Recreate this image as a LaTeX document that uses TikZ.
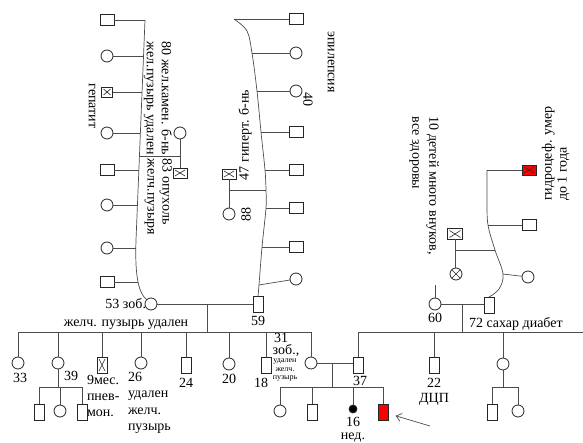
\documentclass[tikz,border=0pt]{standalone}
\usepackage{fontspec}
\setmainfont{Liberation Serif}
\usetikzlibrary{arrows.meta}
\begin{document}
\begin{tikzpicture}[x=1pt,y=-1pt,
  font=\fontsize{14}{15}\selectfont,
  sym/.style={draw=black!85, line width=0.8pt, fill=white, inner sep=0pt, outer sep=0pt},
  sqh/.style={sym, rectangle, minimum width=14pt, minimum height=11pt},
  sqv/.style={sym, rectangle, minimum width=10pt, minimum height=16pt},
  circ/.style={sym, circle, minimum size=12pt},
  crossed/.style={path picture={\draw[line width=0.6pt]
     ([shift={(2pt,-2pt)}]path picture bounding box.north west) -- ([shift={(-2pt,2pt)}]path picture bounding box.south east)
     ([shift={(-2pt,-2pt)}]path picture bounding box.north east) -- ([shift={(2pt,2pt)}]path picture bounding box.south west);}},
  xcirc/.style={path picture={\draw[line width=0.6pt]
     (path picture bounding box.north west) -- (path picture bounding box.south east)
     (path picture bounding box.north east) -- (path picture bounding box.south west);}},
  conn/.style={draw=black!70, line width=0.7pt},
  lbl/.style={inner sep=0pt, outer sep=0pt},
  small/.style={lbl, font=\fontsize{8}{8.3}\selectfont}
]
\useasboundingbox (0,0) rectangle (583,443);

% ---------- left sibship (rotated) ----------
\node[sqh] (L1) at (107,20) {};
\node[circ] (L2) at (107,56) {};
\node[sqh, crossed, minimum width=11pt, minimum height=10pt] (L3) at (107,92) {};
\node[circ] (L4) at (107,133) {};
\node[sqh] (L5) at (107,170) {};
\node[circ] (L6) at (107,205) {};
\node[circ] (L7) at (107,248) {};
\node[sqh] (L8) at (107,282) {};
\node[circ] (c53) at (151,304) {};

\coordinate (la1) at (145,20);
\coordinate (la2) at (143.5,56);
\coordinate (la3) at (142,92);
\coordinate (la4) at (140.4,133);
\coordinate (la80) at (139.4,156);
\coordinate (la5) at (138.9,170);
\coordinate (la6) at (137.4,205);
\coordinate (lb) at (136,240);
\coordinate (la7) at (135.8,248);
\coordinate (la8) at (137.6,282);

\draw[conn] (la1) -- (lb) .. controls (135,270) and (137,292) .. (c53.north west);
\foreach \i in {1,...,8} {\draw[conn] (L\i) -- (la\i);}

% couple 80 / 83
\node[circ] (c80) at (180,133) {};
\node[sqh, crossed, minimum width=14pt, minimum height=10pt] (x83) at (180,173) {};
\coordinate (m80) at (180,156);
\draw[conn] (c80) -- (x83);
\draw[conn] (m80) -- (la80);

\node[lbl, rotate=-90] (tgep) at (92,106) {гепатит};
\node[lbl, rotate=-90, anchor=north west, align=left] (t80) at (172,42) {80 жел.камен. б-нь\\жел.пузырь удален};
\node[lbl, rotate=-90, anchor=north west, align=left] (t83) at (172,159) {83 опухоль\\желч.пузыря};

% ---------- right sibship (rotated) ----------
\node[sqh] (R1) at (296,19) {};
\node[circ] (R2) at (296,53) {};
\node[circ] (R3) at (296,91) {};
\node[sqh] (R4) at (296,132) {};
\node[sqh] (R5) at (296,170) {};
\node[sqh] (R6) at (296,208) {};
\node[sqh] (R7) at (296,247) {};
\node[circ] (R8) at (296,279) {};
\node[sqv] (sq59) at (258,304) {};

\coordinate (ra1) at (234,19);
\coordinate (rq) at (247,31);
\coordinate (ra2) at (252,53);
\coordinate (ra3) at (257,91);
\coordinate (ra4) at (261,132);
\coordinate (ra5) at (265,170);
\coordinate (r47) at (266,190);
\coordinate (ra6) at (266,208);
\coordinate (ra7) at (262,247);
\coordinate (ra8) at (259,285);
\coordinate (r59) at (258,296);
\draw[conn] plot[smooth, tension=0.55] coordinates {(ra1) (rq) (ra2) (ra3) (ra4) (ra5) (r47) (ra6) (ra7) (ra8) (r59)};
\foreach \i in {1,...,8} {\draw[conn] (R\i) -- (ra\i);}

% couple 47 / 88
\node[sqh, crossed, minimum width=14pt, minimum height=10pt] (x47) at (229,174) {};
\node[circ] (c88) at (229,214) {};
\coordinate (m47) at (229,190);
\draw[conn] (x47) -- (c88);
\draw[conn] (m47) -- (r47);

\node[lbl, rotate=-90] (tepi) at (331,62) {эпилепсия};
\node[lbl, rotate=-90] (t40) at (308,100) {40};
\node[lbl, rotate=90] (t47) at (245,135) {47 гиперт. б-нь};
\node[lbl, rotate=90] (t88) at (246,215) {88};

% ---------- 53 x 59 and children ----------
\draw[conn] (c53) -- (sq59);
\coordinate (d1) at (207,304);
\coordinate (d1b) at (207,332);
\draw[conn] (d1) -- (d1b);
\node[lbl, anchor=east] (t53) at (146,304) {53 зоб.};
\node[lbl, anchor=base] (tzh) at (126,326) {желч. пузырь удален};
\node[lbl, anchor=base] (t59) at (258,325) {59};

\coordinate (s1l) at (18,332);
\coordinate (s1r) at (311,332);
\draw[conn] (s1l) -- (s1r);

\node[circ] (c33) at (18,363) {};
\node[circ] (c39) at (58,363) {};
\node[sqv, crossed] (x9) at (102,365) {};
\node[circ] (c26) at (141,363) {};
\node[sqv] (sq24) at (186,365) {};
\node[circ] (c20) at (229,364) {};
\node[sqv] (sq18) at (266,365) {};
\node[circ] (c31) at (311,363) {};
\foreach \n in {c33,c39,x9,c26,sq24,c20,sq18,c31} {\draw[conn] (\n |- s1l) -- (\n);}

\node[lbl, anchor=base] (t33) at (20,382) {33};
\node[lbl, anchor=base] (t39) at (71,380) {39};
\node[lbl, anchor=north west, align=left, font=\fontsize{14}{16}\selectfont] (t9) at (87,375) {9мес.\\пнев-\\мон.};
\node[lbl, anchor=north west, align=left, font=\fontsize{14}{16.5}\selectfont] (t26) at (128,372) {26\\удален\\желч.\\пузырь};
\node[lbl, anchor=base] (t24) at (186,387) {24};
\node[lbl, anchor=base] (t20) at (229,383) {20};
\node[lbl, anchor=base] (t18) at (261,387) {18};
\node[lbl, anchor=base] (t31) at (281,342) {31};
\node[lbl, anchor=base] (t31b) at (286,354.5) {зоб.,};
\node[small, anchor=north, align=center] (t31c) at (285,359) {удален\\желч.\\пузырь};

% children of 39
\coordinate (s39l) at (39,387);
\coordinate (s39r) at (82,387);
\coordinate (s39m) at (58,387);
\draw[conn] (c39) -- (s39m);
\draw[conn] (s39l) -- (s39r);
\node[sqv] (g1) at (39,412) {};
\node[circ] (g2) at (60,411) {};
\node[sqv] (g3) at (82,412) {};
\foreach \n in {g1,g2,g3} {\draw[conn] (\n |- s39l) -- (\n);}

% ---------- couple 31 x 37 ----------
\node[sqv] (sq37) at (358,365) {};
\draw[conn] (c31.east) -- (c31.east -| sq37.west);
\node[lbl, anchor=base] (t37) at (360,385) {37};
\coordinate (d3) at (332,363);
\coordinate (d3b) at (332,387);
\draw[conn] (d3) -- (d3b);
\coordinate (s3l) at (280,387);
\coordinate (s3r) at (383,387);
\draw[conn] (s3l) -- (s3r);
\node[circ] (h1) at (280,411) {};
\node[sqv] (h2) at (312,412) {};
\node[sym, circle, fill=black, minimum size=8pt] (h3) at (353,409) {};
\node[sqv, fill=red] (h4) at (383,412) {};
\foreach \n in {h1,h2,h3,h4} {\draw[conn] (\n |- s3l) -- (\n);}
\node[lbl, anchor=base] (t16) at (353,426) {16};
\node[lbl, anchor=base] (tned) at (353,439) {нед.};
\coordinate (atail) at (430,426);
\draw[conn, shorten >=8pt, -{Straight Barb[length=5pt, width=8pt]}] (atail) -- (h4);

% ---------- right family ----------
\node[circ] (c60) at (435,304) {};
\node[sqv] (sq72) at (489,305) {};
\draw[conn] (c60.east) -- (c60.east -| sq72.west);
\coordinate (c60t) at (435,285);
\draw[conn] (c60) -- (c60t);
\coordinate (d2) at (462,304);
\coordinate (d2b) at (462,332);
\draw[conn] (d2) -- (d2b);
\node[lbl, anchor=base] (t60) at (435,323) {60};
\node[lbl, anchor=base west] (t72) at (469,327) {72 сахар диабет};

\coordinate (s2l) at (358,332);
\coordinate (s2r) at (583,332);
\draw[conn] (s2l) -- (s2r);
\node[sqv] (sq22) at (434,365) {};
\node[circ] (c503) at (503,364) {};
\foreach \n in {sq37,sq22,c503} {\draw[conn] (\n |- s2l) -- (\n);}
\node[lbl, anchor=north, align=center] (t22) at (434,378) {22\\ДЦП};

\coordinate (s4l) at (492,387);
\coordinate (s4r) at (518,387);
\coordinate (s4m) at (503,387);
\draw[conn] (c503) -- (s4m);
\draw[conn] (s4l) -- (s4r);
\node[sqv] (k1) at (492,412) {};
\node[circ] (k2) at (518,411) {};
\foreach \n in {k1,k2} {\draw[conn] (\n |- s4l) -- (\n);}

% upper right (rotated)
\node[sqh, fill=red, crossed, minimum width=14pt, minimum height=10pt] (Q1) at (529,170) {};
\node[sqh] (Q2) at (529,225) {};
\node[circ] (Q3) at (528,277) {};
\coordinate (qa1) at (487,170);
\coordinate (qa2) at (488,225);
\coordinate (qm) at (495,250);
\coordinate (qa3) at (503,274);
\coordinate (qe) at (489,297);
\draw[conn] plot[smooth, tension=0.6] coordinates {(qa1) (487,200) (qa2) (qm) (qa3) (499,289) (qe)};
\foreach \i in {1,2,3} {\draw[conn] (Q\i) -- (qa\i);}

\node[sqh, crossed, minimum width=15pt, minimum height=11pt] (x455) at (455,234) {};
\node[circ, xcirc] (cox) at (456,274) {};
\coordinate (m455) at (455,250);
\draw[conn] (x455) -- (x455 |- cox.north);
\draw[conn] (m455) -- (qm);

\node[lbl, rotate=-90, anchor=north west, align=left, font=\fontsize{14}{17}\selectfont] (t10) at (439,117) {10 детей много внуков,\\все здоровы};
\node[lbl, rotate=90, anchor=north west, align=left] (tgid) at (542,201) {гидроцеф. умер\\до 1 года};

\end{tikzpicture}
\end{document}
